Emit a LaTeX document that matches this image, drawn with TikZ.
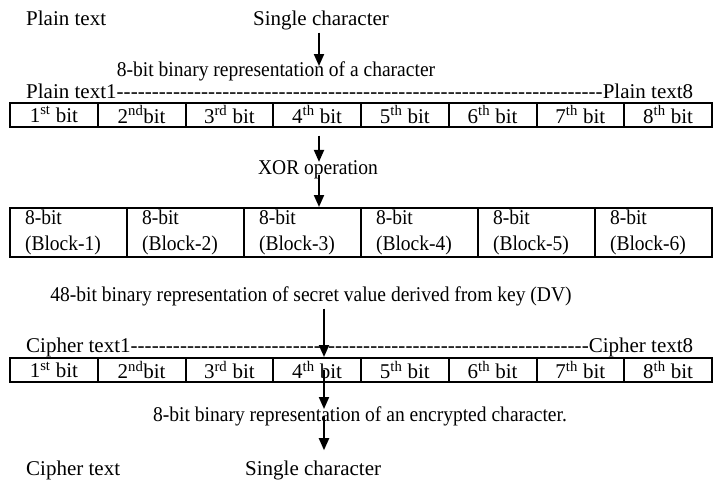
\documentclass[tikz,border=0pt]{standalone}
\usepackage{fontspec}
\setmainfont{Liberation Serif}
\newfontfamily\cfont[FakeStretch=0.93]{Liberation Serif}
\usetikzlibrary{arrows.meta}
\begin{document}
\begin{tikzpicture}[x=1pt,y=-1pt,
  lbl/.style={inner sep=0pt, font=\fontsize{21}{24}\selectfont},
  lbls/.style={inner sep=0pt, font=\cfont\fontsize{21}{24}\selectfont},
  bitcell/.style={draw, line width=2pt, minimum width=87.75pt, minimum height=24pt, inner sep=0pt, font=\fontsize{21}{24}\selectfont},
  blockcell/.style={draw, line width=2pt, minimum width=117pt, minimum height=49pt, inner xsep=15pt, inner ysep=0pt, text width=87pt, align=left, font=\cfont\fontsize{21}{26}\selectfont},
  arr/.style={line width=2pt, -{Triangle[width=10pt,length=12pt]}}
]
\useasboundingbox (0,0) rectangle (718,483);
\coordinate (colA) at (319,0);
\coordinate (colB) at (324,0);
% top labels
\node[lbl, anchor=base west] (pt) at (26,25) {Plain text};
\node[lbl, anchor=base] (sc) at (321,25) {Single character};
\node[lbls, anchor=base] (rep1) at (276,76) {8-bit binary representation of a character};
\node[lbl, anchor=base west] (pline) at (26,98) {\hbox to 667pt{Plain text1\xleaders\hbox{-}\hfill Plain text8}};
% table 1
\foreach \i/\t in {1/{1\textsuperscript{st} bit},2/{2\textsuperscript{nd}bit},3/{3\textsuperscript{rd} bit},4/{4\textsuperscript{th} bit},5/{5\textsuperscript{th} bit},6/{6\textsuperscript{th} bit},7/{7\textsuperscript{th} bit},8/{8\textsuperscript{th} bit}}
  \node[bitcell] (p\i) at ({10+87.75*(\i-0.5)},114.5) {\t};
\node[lbls, anchor=base] (xor) at (318,174) {XOR operation};
% table 2
\foreach \i in {1,...,6}
  \node[blockcell] (k\i) at ({10+117*(\i-0.5)},232.5) {8-bit\\(Block-\i)};
\node[lbls, anchor=base] (d48) at (311,301) {48-bit binary representation of secret value derived from key (DV)};
\node[lbl, anchor=base west] (cline) at (26,352) {\hbox to 667pt{Cipher text1\xleaders\hbox{-}\hfill Cipher text8}};
% table 3
\foreach \i/\t in {1/{1\textsuperscript{st} bit},2/{2\textsuperscript{nd}bit},3/{3\textsuperscript{rd} bit},4/{4\textsuperscript{th} bit},5/{5\textsuperscript{th} bit},6/{6\textsuperscript{th} bit},7/{7\textsuperscript{th} bit},8/{8\textsuperscript{th} bit}}
  \node[bitcell] (c\i) at ({10+87.75*(\i-0.5)},370) {\t};
\node[lbls, anchor=base] (enc) at (360,421) {8-bit binary representation of an encrypted character.};
\node[lbl, anchor=base west] (ct) at (26,475) {Cipher text};
\node[lbl, anchor=base west] (sc2) at (245,475) {Single character};
% arrows
\draw[arr] ([yshift=-3pt]sc.south -| colA) -- ([yshift=-5pt]rep1.north -| colA);
\draw[arr] ([yshift=-8pt]p4.south -| colA) -- ([yshift=-2pt]xor.north -| colA);
\draw[arr] ([yshift=4pt]xor.south -| colA) -- (k3.north -| colA);
\draw[arr] ([yshift=-3pt]d48.south -| colB) -- (c4.north -| colB);
\draw[arr] (c4.center -| colB) -- ([yshift=-3pt]enc.north -| colB);
\draw[arr] (enc.center -| colB) -- ([yshift=10pt]sc2.north -| colB);
\end{tikzpicture}
\end{document}
